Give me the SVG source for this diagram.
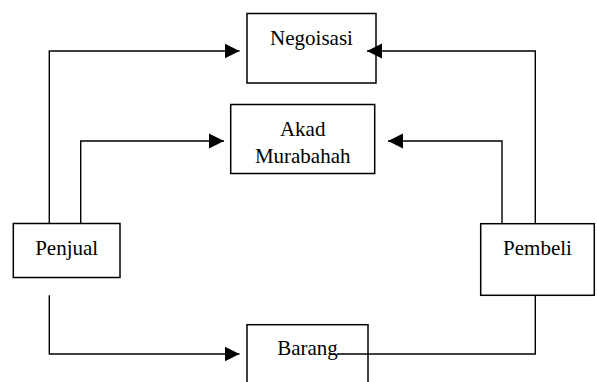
<svg xmlns="http://www.w3.org/2000/svg" width="597" height="382" viewBox="0 0 597 382">
<defs>
<style>
.box{fill:#fff;stroke:#000;stroke-width:1.5}
.lbl{font-family:"Liberation Serif","Times New Roman",serif;font-size:21px;fill:#000;text-anchor:middle}
.ln{fill:none;stroke:#000;stroke-width:1.4}
</style>
<marker id="ah" markerUnits="userSpaceOnUse" markerWidth="16" markerHeight="16" viewBox="0 0 16 16" refX="15" refY="8" orient="auto">
<path d="M0,0.5 L15,8 L0,15.5 Z" fill="#000"/>
</marker>
</defs>
<g id="negoisasi">
<rect class="box" x="247" y="13.5" width="129" height="69.5"/>
<text class="lbl" x="311.5" y="45">Negoisasi</text>
</g>
<g id="akad">
<rect class="box" x="230.7" y="104.5" width="144" height="69"/>
<text class="lbl" x="302.7" y="135.5">Akad</text>
<text class="lbl" x="302.7" y="162.5">Murabahah</text>
</g>
<g id="penjual">
<rect class="box" x="13.3" y="223.5" width="106.7" height="54"/>
<text class="lbl" x="66.7" y="254.5">Penjual</text>
</g>
<g id="pembeli">
<rect class="box" x="480.7" y="223.7" width="113.6" height="71.6"/>
<text class="lbl" x="537.5" y="254.5">Pembeli</text>
</g>
<g id="barang">
<rect class="box" x="247" y="324.7" width="121" height="70"/>
<text class="lbl" x="307.5" y="355">Barang</text>
</g>
<g id="connectors">
<path class="ln" d="M49.3,223.5 V51 H239.5" marker-end="url(#ah)"/>
<path class="ln" d="M80.7,223.5 V141 H224" marker-end="url(#ah)"/>
<path class="ln" d="M535.3,223.7 V51 H367" marker-end="url(#ah)"/>
<path class="ln" d="M502,223.7 V141 H388" marker-end="url(#ah)"/>
<path class="ln" d="M49.3,295.3 V354 H239.5" marker-end="url(#ah)"/>
<path class="ln" d="M535.3,295.3 V354 H337"/>
</g>
</svg>
